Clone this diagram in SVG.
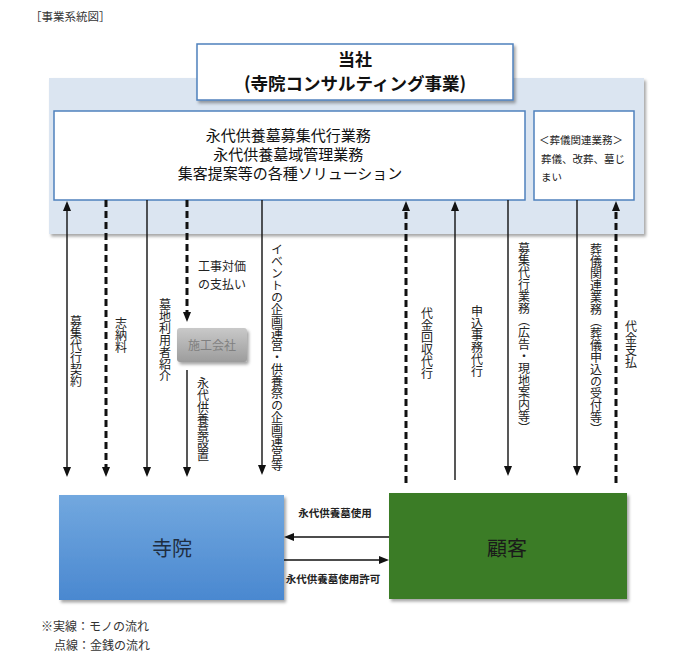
<svg xmlns="http://www.w3.org/2000/svg" width="675" height="661" viewBox="0 0 675 661">
  <style>
    .jp { font-family: "Noto Sans CJK JP", "Liberation Sans", sans-serif; }
    .box { fill: #ffffff; stroke: #4f81bd; stroke-width: 1.5; }
    .solid { fill: none; stroke: #111; stroke-width: 1.4; }
    .dash { fill: none; stroke: #111; stroke-width: 3; stroke-dasharray: 7 4; }
    .vlab { font-size: 12px; fill: #222; writing-mode: vertical-rl; }
    .blab { font-size: 10.5px; font-weight: bold; fill: #222; }
  </style>
  <defs>
    <marker id="ah" viewBox="0 0 10 8" refX="1" refY="4" markerWidth="10" markerHeight="8" markerUnits="userSpaceOnUse" orient="auto-start-reverse">
      <path d="M0,0 L10,4 L0,8 z" fill="#111"/>
    </marker>
    <filter id="sh" x="-10%" y="-10%" width="130%" height="140%">
      <feDropShadow dx="2" dy="2.5" stdDeviation="1.5" flood-color="#000" flood-opacity="0.35"/>
    </filter>
    <linearGradient id="gBlue" x1="0" y1="0" x2="0" y2="1">
      <stop offset="0" stop-color="#72a8df"/>
      <stop offset="1" stop-color="#4a88d0"/>
    </linearGradient>
    <linearGradient id="gGray" x1="0" y1="0" x2="0" y2="1">
      <stop offset="0" stop-color="#c9c9c9"/>
      <stop offset="1" stop-color="#9c9c9c"/>
    </linearGradient>
  </defs>

  <rect width="675" height="661" fill="#ffffff"/>

  <text class="jp" x="30" y="21" font-size="11.5" fill="#333">［事業系統図］</text>

  <!-- Company panel -->
  <g id="panel">
    <rect x="49" y="78" width="595" height="156" fill="#dbe5f1" filter="url(#sh)"/>
  </g>

  <g id="title">
    <rect class="box" x="197" y="44" width="316" height="56" filter="url(#sh)"/>
    <text class="jp" x="355" y="66" font-size="17" font-weight="bold" fill="#111" text-anchor="middle">当社</text>
    <text class="jp" x="355" y="90" font-size="17.5" font-weight="bold" fill="#111" text-anchor="middle">(寺院コンサルティング事業)</text>
  </g>

  <g id="main-services">
    <rect class="box" x="54" y="111" width="471" height="89"/>
    <text class="jp" font-size="15" fill="#111" text-anchor="middle">
      <tspan x="290" y="141">永代供養墓募集代行業務</tspan>
      <tspan x="290" y="160">永代供養墓域管理業務</tspan>
      <tspan x="290" y="179">集客提案等の各種ソリューション</tspan>
    </text>
  </g>

  <g id="funeral-services">
    <rect class="box" x="534" y="111" width="100" height="89"/>
    <text class="jp" font-size="10.5" fill="#222">
      <tspan x="539" y="144">＜葬儀関連業務＞</tspan>
      <tspan x="541" y="163">葬儀、改葬、墓じ</tspan>
      <tspan x="541" y="181">まい</tspan>
    </text>
  </g>

  <g id="contractor">
    <rect x="177" y="328" width="70" height="34" rx="3" fill="url(#gGray)" filter="url(#sh)"/>
    <text class="jp" x="212" y="349.5" font-size="12" fill="#808080" text-anchor="middle">施工会社</text>
  </g>

  <g id="temple">
    <rect x="59" y="495" width="225" height="105" fill="url(#gBlue)" filter="url(#sh)"/>
    <text class="jp" x="172" y="556" font-size="20" fill="#1e2d40" text-anchor="middle">寺院</text>
  </g>

  <g id="customer">
    <rect x="389" y="493" width="238" height="106" fill="#3b7b25" filter="url(#sh)"/>
    <text class="jp" x="507" y="556" font-size="20" fill="#1a1a1a" text-anchor="middle">顧客</text>
  </g>

  <!-- Connectors -->
  <g id="connectors">
    <line class="solid" x1="67" y1="210" x2="67" y2="468" marker-start="url(#ah)" marker-end="url(#ah)"/>
    <line class="dash" x1="106" y1="200" x2="106" y2="468" marker-end="url(#ah)"/>
    <line class="solid" x1="147" y1="200" x2="147" y2="468" marker-end="url(#ah)"/>
    <line class="dash" x1="187" y1="200" x2="187" y2="313" marker-end="url(#ah)"/>
    <line class="solid" x1="187" y1="370" x2="187" y2="468" marker-end="url(#ah)"/>
    <line class="solid" x1="262" y1="200" x2="262" y2="466" marker-end="url(#ah)"/>
    <line class="dash" x1="406" y1="483" x2="406" y2="210" marker-end="url(#ah)"/>
    <line class="solid" x1="455" y1="480" x2="455" y2="210" marker-end="url(#ah)"/>
    <line class="solid" x1="508" y1="200" x2="508" y2="467" marker-end="url(#ah)"/>
    <line class="solid" x1="577" y1="200" x2="577" y2="467" marker-end="url(#ah)"/>
    <line class="dash" x1="616" y1="483" x2="616" y2="210" marker-end="url(#ah)"/>
    <line class="solid" x1="389" y1="537" x2="293" y2="537" stroke-width="1.8" marker-end="url(#ah)"/>
    <line class="solid" x1="284" y1="560" x2="380" y2="560" stroke-width="1.8" marker-end="url(#ah)"/>
  </g>

  <g id="connector-labels">
    <text class="jp vlab" x="76" y="315">募集代行契約</text>
    <text class="jp vlab" x="121" y="317">志納料</text>
    <text class="jp vlab" x="165" y="298">墓地利用者紹介</text>
    <text class="jp" font-size="12" fill="#222">
      <tspan x="198" y="271">工事対価</tspan>
      <tspan x="198" y="289">の支払い</tspan>
    </text>
    <text class="jp vlab" x="203" y="377">永代供養墓設置</text>
    <text class="jp vlab" x="277" y="243">イベントの企画運営・供養祭の企画運営等</text>
    <text class="jp vlab" x="427" y="307">代金回収代行</text>
    <text class="jp vlab" x="477" y="305">申込事務代行</text>
    <text class="jp vlab" x="524" y="242">募集代行業務（広告・現地案内等）</text>
    <text class="jp vlab" x="596" y="243">葬儀関連業務（葬儀申込の受付等）</text>
    <text class="jp vlab" x="631" y="320">代金支払</text>
    <text class="jp blab" x="335" y="517" text-anchor="middle">永代供養墓使用</text>
    <text class="jp blab" x="333" y="583" text-anchor="middle">永代供養墓使用許可</text>
  </g>

  <text class="jp" font-size="12" fill="#333">
    <tspan x="41" y="631">※実線：モノの流れ</tspan>
    <tspan x="54" y="650">点線：金銭の流れ</tspan>
  </text>
</svg>
